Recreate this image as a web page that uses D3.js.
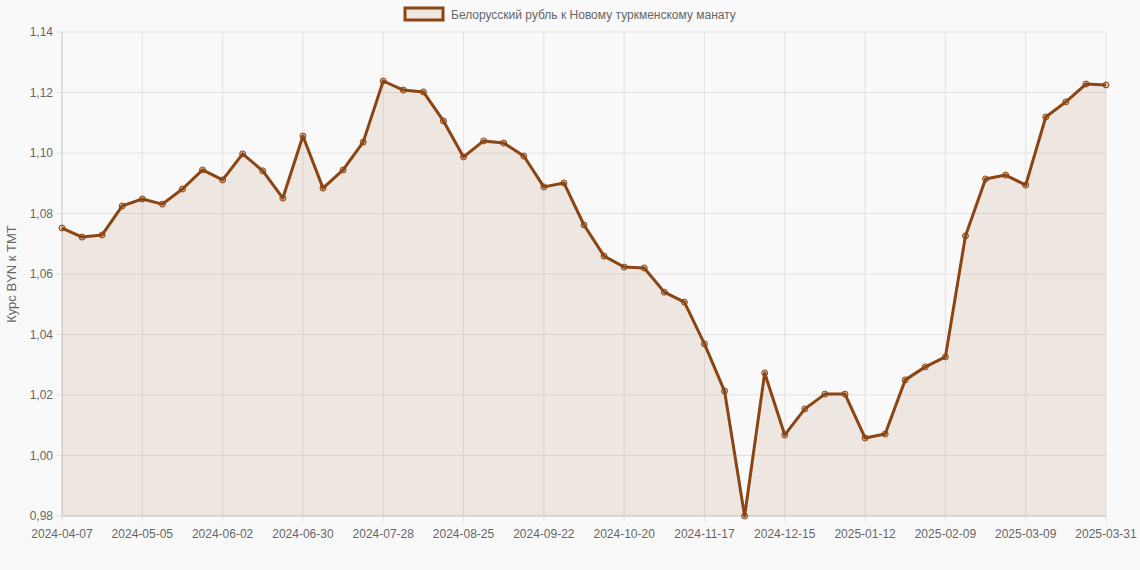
<!DOCTYPE html>
<html><head><meta charset="utf-8">
<script src="https://cdn.jsdelivr.net/npm/d3@7"></script>
<style>body{margin:0;background:#f9f9f9;font-family:"Liberation Sans",Arial,sans-serif}</style>
</head><body><svg id="chart" width="1140" height="570"></svg>
<script>
// weekly dates, last label is 2025-03-31
const dates = [];
let d0 = new Date(Date.UTC(2024, 3, 7));
for (let i = 0; i < 52; i++) dates.push(d3.utcFormat('%Y-%m-%d')(d3.utcDay.offset(d0, i * 7)));
dates.push('2025-03-31');

const rates = [1.0752,1.0722,1.0729,1.0825,1.0848,1.0831,1.0881,1.0944,1.0911,1.0997,
  1.0941,1.0851,1.1056,1.0884,1.0944,1.1036,1.1238,1.1208,1.1202,1.1106,
  1.0987,1.1040,1.1033,1.0990,1.0888,1.0901,1.0762,1.0659,1.0623,1.0620,
  1.0540,1.0507,1.0369,1.0213,0.9800,1.0273,1.0068,1.0154,1.0203,1.0203,
  1.0058,1.0071,1.0250,1.0293,1.0326,1.0726,1.0914,1.0927,1.0894,1.1119,
  1.1169,1.1228,1.1225];
const yTicks = [0.98,1.00,1.02,1.04,1.06,1.08,1.10,1.12,1.14];

const m = {l: 62, r: 1106, t: 32, b: 516};
const svg = d3.select('#chart');
const x = d3.scalePoint().domain(dates).range([m.l, m.r]);
const y = d3.scaleLinear().domain([0.98, 1.14]).range([m.b, m.t]);
const color = '#8b4513';
const fmt = v => d3.format('.2f')(v).replace('.', ',');

const xTickIdx = dates.map((d, i) => i).filter(i => i % 4 === 0 || i === dates.length - 1);

// grid
svg.append('g').selectAll('line').data(yTicks).join('line')
  .attr('x1', m.l - 6).attr('x2', m.r).attr('y1', d => y(d)).attr('y2', d => y(d))
  .attr('stroke', '#e2e2e2');
svg.append('g').selectAll('line').data(xTickIdx).join('line')
  .attr('x1', i => x(dates[i])).attr('x2', i => x(dates[i]))
  .attr('y1', m.t).attr('y2', m.b + 6).attr('stroke', '#e2e2e2');
svg.append('line').attr('x1', m.l).attr('x2', m.l).attr('y1', m.t).attr('y2', m.b).attr('stroke', '#cfcfcf');
svg.append('line').attr('x1', m.l).attr('x2', m.r).attr('y1', m.b).attr('y2', m.b).attr('stroke', '#cfcfcf');

// tick labels
svg.append('g').selectAll('text').data(yTicks).join('text')
  .attr('x', m.l - 9).attr('y', d => y(d) + 4).attr('text-anchor', 'end')
  .attr('font-size', 12).attr('fill', '#666').text(fmt);
svg.append('g').selectAll('text').data(xTickIdx).join('text')
  .attr('x', i => x(dates[i])).attr('y', m.b + 22).attr('text-anchor', 'middle')
  .attr('font-size', 12).attr('fill', '#666').text(i => dates[i]);

svg.append('text').attr('transform', `translate(16,${(m.t + m.b) / 2}) rotate(-90)`)
  .attr('text-anchor', 'middle').attr('font-size', 13).attr('fill', '#666').text('Курс BYN к TMT');

// area + line
svg.append('path').datum(rates)
  .attr('d', d3.area().x((d, i) => x(dates[i])).y0(m.b).y1(d => y(d)))
  .attr('fill', 'rgba(139,69,19,0.1)');
svg.append('path').datum(rates)
  .attr('d', d3.line().x((d, i) => x(dates[i])).y(d => y(d)))
  .attr('fill', 'none').attr('stroke', color).attr('stroke-width', 3).attr('stroke-linejoin', 'round');
svg.append('g').selectAll('circle').data(rates).join('circle')
  .attr('cx', (d, i) => x(dates[i])).attr('cy', d => y(d)).attr('r', 3)
  .attr('fill', 'rgba(139,69,19,0.3)').attr('stroke', color).attr('stroke-width', 1);

// legend
svg.append('rect').attr('x', 405).attr('y', 8).attr('width', 38).attr('height', 12)
  .attr('fill', 'rgba(139,69,19,0.1)').attr('stroke', color).attr('stroke-width', 3);
svg.append('text').attr('x', 451).attr('y', 19).attr('font-size', 12).attr('fill', '#666')
  .text('Белорусский рубль к Новому туркменскому манату');
</script></body></html>
